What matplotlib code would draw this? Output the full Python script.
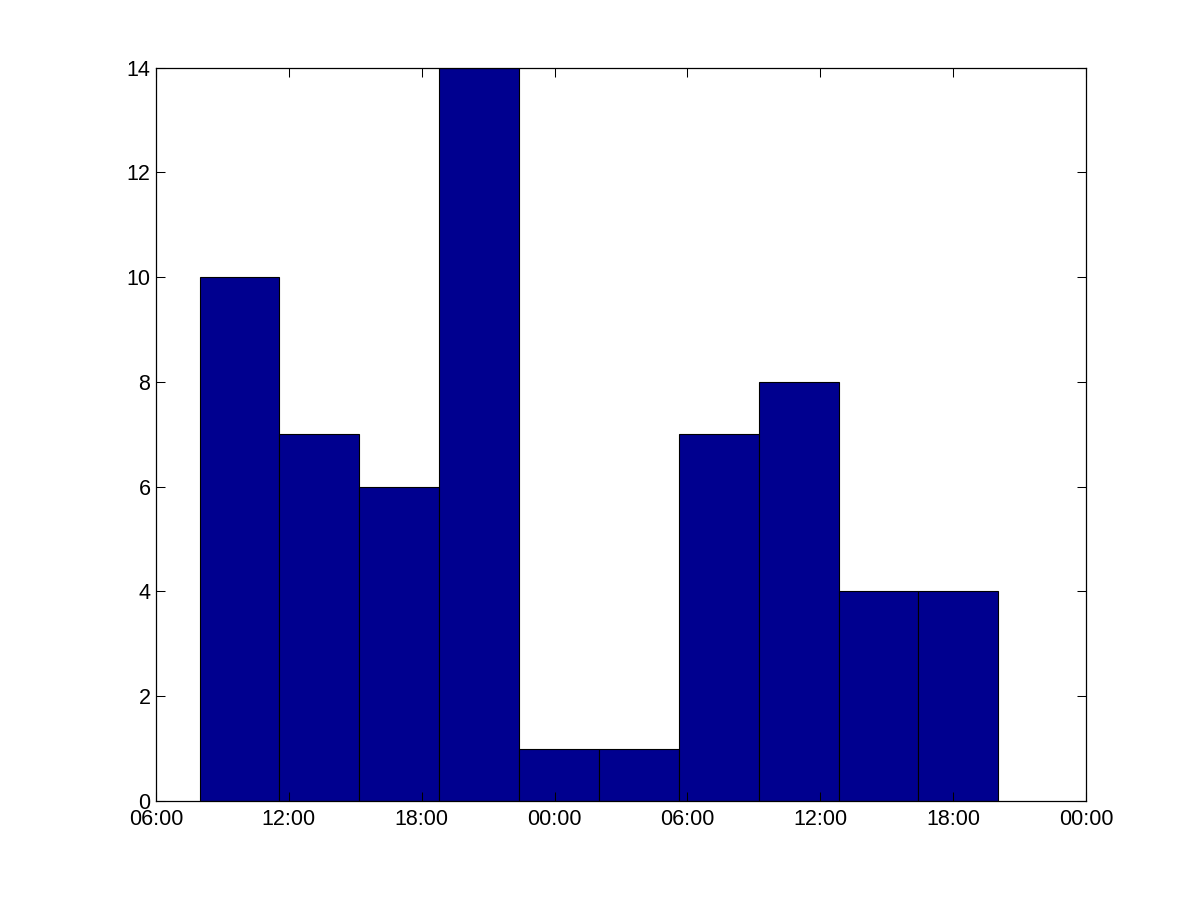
import numpy as np
import matplotlib
matplotlib.use("Agg")
import matplotlib.pyplot as plt
from matplotlib.ticker import FixedLocator, FuncFormatter

# histogram data (hours counted from 00:00 of the first day)
counts = [10, 7, 6, 14, 1, 1, 7, 8, 4, 4]
bin_start = 7.97
bin_width = 3.607
tick_hours = [6, 12, 18, 24, 30, 36, 42, 48]
x_range = (6, 48)
y_range = (0, 14)

BAR_COLOR = "#00008f"

plt.rcParams["font.family"] = ["Liberation Sans", "DejaVu Sans"]

fig = plt.figure(figsize=(12, 9), dpi=100)
ax = fig.add_axes([0.13, 0.11, 0.775, 0.815])

lefts = bin_start + bin_width * np.arange(len(counts))
ax.bar(lefts, counts, width=bin_width, align="edge",
       color=BAR_COLOR, edgecolor="black", linewidth=0.8)

ax.set_xlim(*x_range)
ax.set_ylim(*y_range)
ax.xaxis.set_major_locator(FixedLocator(tick_hours))
ax.xaxis.set_major_formatter(FuncFormatter(lambda h, _: f"{int(h) % 24:02d}:00"))
ax.set_yticks(range(0, 15, 2))

ax.tick_params(direction="in", length=6.5, width=0.75, top=True, right=True,
               labelsize=15.5, colors="black")
ax.tick_params(axis="x", pad=5.5)
ax.tick_params(axis="y", pad=4)
for s in ax.spines.values():
    s.set_linewidth(0.9)

fig.savefig("out.png", dpi=100, facecolor="white")
